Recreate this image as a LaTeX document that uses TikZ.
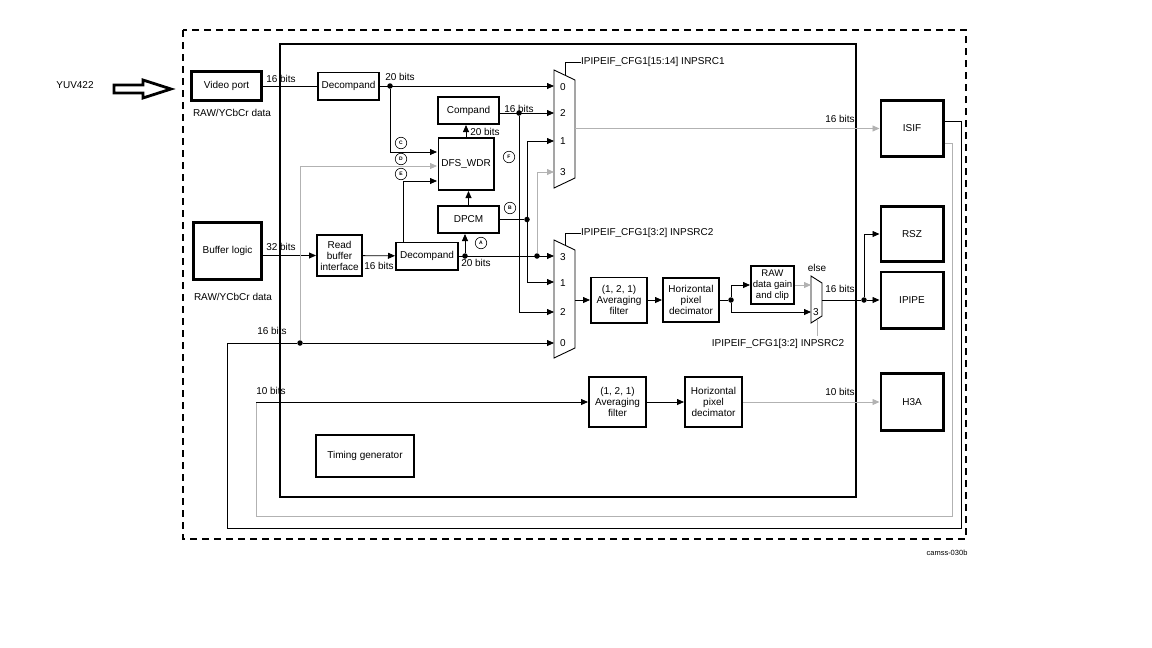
\documentclass[tikz,border=0pt]{standalone}
\usepackage{fontspec}
\setmainfont{Liberation Sans}
\usetikzlibrary{arrows.meta}

\tikzset{
    bigbox/.style={draw, line width=2.8pt, align=center, inner sep=1pt},
    blk/.style={draw, line width=1.7pt, align=center, inner sep=0.5pt},
    lbl/.style={inner sep=0pt},
    sig/.style={line width=0.8pt, -{Triangle[length=7pt,width=6pt]}},
    wire/.style={line width=0.8pt},
    gsig/.style={sig, draw=gray!60},
    gwire/.style={wire, draw=gray!60},
    dot/.style={circle, fill, inner sep=0pt, minimum size=5.5pt},
    tag/.style={circle, draw, line width=0.6pt, inner sep=0pt, minimum size=11.5pt,
        font=\fontsize{5}{5}\selectfont\bfseries},
    mux/.style={line width=0.9pt},
}

\begin{document}
\begin{tikzpicture}[x=1pt, y=-1pt, font=\fontsize{10}{11}\selectfont]
            \useasboundingbox (0,0) rectangle (1152,648);

            % Frames
            \draw[line width=1.8pt, dash pattern=on 7pt off 5pt] (183,30) rectangle (966,539);
            \draw[line width=2.8pt] (280,44) rectangle (856,497);

            % Input arrow
            \node[lbl] (yuv) at (75,85) {YUV422};
            \draw[line width=2.8pt, line join=miter]
                (114,85) -- (143,85) -- (143,80) -- (171,89) --
                (143,98) -- (143,93) -- (114,93) -- cycle;

            % Sources
            \node[bigbox, minimum width=70.2, minimum height=29.2] (vport) at (226.5,86) {Video port};
            \node[lbl] (vraw) at (232,113) {RAW/YCbCr data};
            \node[bigbox, minimum width=68.2, minimum height=57.2] (buf) at (227.5,251) {Buffer logic};
            \node[lbl] (braw) at (233,297) {RAW/YCbCr data};

            % Upper chain
            \node[blk, minimum width=61.3, minimum height=27.3] (dec1) at (348.5,86) {Decompand};
            \node[blk, minimum width=61.3, minimum height=27.3] (comp) at (468.5,110.5) {Compand};
            \node[blk, minimum width=55.3, minimum height=52.3] (dfs) at (466,164) {DFS\_WDR};
            \node[blk, minimum width=61.3, minimum height=27.3] (dpcm) at (468.5,219.5) {DPCM};

            % Buffer chain
            \node[blk, minimum width=45.3, minimum height=41.3] (rbi) at (339.5,255.5) {Read\\buffer\\interface};
            \node[blk, minimum width=62.3, minimum height=27.3] (dec2) at (427,256) {Decompand};

            % Filters
            \node[blk, minimum width=56.3, minimum height=45.3] (avg1) at (619,300) {(1, 2, 1)\\Averaging\\filter};
            \node[blk, minimum width=56.3, minimum height=44.3] (hpd1) at (691,300) {Horizontal\\pixel\\decimator};
            \node[blk, minimum width=43.3, minimum height=38.3, font=\fontsize{9.6}{10.8}\selectfont] (raw) at (772.5,285) {RAW\\data gain\\and clip};
            \node[blk, minimum width=57.3, minimum height=50.3] (avg2) at (617.5,402) {(1, 2, 1)\\Averaging\\filter};
            \node[blk, minimum width=57.3, minimum height=50.3] (hpd2) at (713.5,402) {Horizontal\\pixel\\decimator};
            \node[blk, minimum width=98.3, minimum height=42.3] (tgen) at (365,456) {Timing generator};

            % Sinks
            \node[bigbox, minimum width=62.2, minimum height=56.2] (isif) at (912,128.5) {ISIF};
            \node[bigbox, minimum width=62.2, minimum height=55.2] (rsz) at (912,234) {RSZ};
            \node[bigbox, minimum width=62.2, minimum height=56.2] (ipipe) at (912,300) {IPIPE};
            \node[bigbox, minimum width=62.2, minimum height=57.2] (h3a) at (912,402) {H3A};

            % Mux 1
            \draw[mux] (554,70) -- (575,80) -- (575,178) -- (554,188) -- cycle;
            \coordinate (m1i0) at (554,86);
            \coordinate (m1i2) at (554,113);
            \coordinate (m1i1) at (554,141);
            \coordinate (m1i3) at (554,172);
            \coordinate (m1o) at (575,128.5);
            \node[lbl] (m1l0) at (563,87) {0};
            \node[lbl] (m1l2) at (563,113) {2};
            \node[lbl] (m1l1) at (563,141) {1};
            \node[lbl] (m1l3) at (563,172) {3};
            \node[lbl, anchor=west] (cfg1) at (581,62) {IPIPEIF\_CFG1[15:14] INPSRC1};
            \draw[wire] (565,75) |- (cfg1.west);

            % Mux 2
            \draw[mux] (554,240) -- (575,250) -- (575,348) -- (554,358) -- cycle;
            \coordinate (m2i3) at (554,256);
            \coordinate (m2i1) at (554,282);
            \coordinate (m2i2) at (554,312);
            \coordinate (m2i0) at (554,343);
            \coordinate (m2o) at (575,300);
            \node[lbl] (m2l3) at (563,257) {3};
            \node[lbl] (m2l1) at (563,283) {1};
            \node[lbl] (m2l2) at (563,312) {2};
            \node[lbl] (m2l0) at (563,343) {0};
            \node[lbl, anchor=west] (cfg2) at (581,233) {IPIPEIF\_CFG1[3:2] INPSRC2};
            \draw[wire] (565,245) |- (cfg2.west);

            % Mux 3
            \draw[mux] (811,276) -- (822,283) -- (822,316) -- (811,323) -- cycle;
            \coordinate (m3ie) at (811,285);
            \coordinate (m3i3) at (811,312);
            \coordinate (m3o) at (822,300);
            \node[lbl] (m3l3) at (816,312) {3};
            \node[lbl] (else) at (817,268) {else};
            \node[lbl] (cfg3) at (778,344) {IPIPEIF\_CFG1[3:2] INPSRC2};
            \draw[gwire] (817,320) -- (817,336);

            % DFS_WDR inputs
            \coordinate (dfsc) at (437,152);
            \coordinate (dfsd) at (437,166);
            \coordinate (dfse) at (437,181);
            \node[tag] (tc) at (401,143) {C};
            \node[tag] (td) at (401,159) {D};
            \node[tag] (te) at (401,174) {E};
            \node[tag] (tf) at (509,157) {F};
            \node[tag] (tb) at (510,208) {B};
            \node[tag] (ta) at (481,243) {A};

            % Junctions
            \node[dot] (d1) at (390,86) {};
            \node[dot] (d2) at (300,343) {};
            \node[dot] (d3) at (527,219.5) {};
            \node[dot] (d4) at (465,256) {};
            \node[dot] (d5) at (537,256) {};
            \node[dot] (d6) at (731,300) {};
            \node[dot] (d7) at (864,300) {};
            \node[dot] (d8) at (519,113) {};

            % Video port path
            \draw[wire] (vport) -- (dec1);
            \node[lbl] at (281,79) {16 bits};
            \draw[sig] (dec1) -- (m1i0);
            \node[lbl] (b20a) at (400,77) {20 bits};
            \draw[sig] (d1) |- (dfsc);
            \draw[sig] (dfs.north) -- (dfs.north |- comp.south);
            \node[lbl] (b20b) at (485,132) {20 bits};
            \draw[sig] (comp.east |- m1i2) -- (m1i2);
            \node[lbl] (b16a) at (519,109) {16 bits};
            \draw[sig] (d8) |- (m2i2);
            \draw[sig] (dpcm.north) -- (dpcm.north |- dfs.south);
            \draw[wire] (dpcm) -- (d3);
            \draw[sig] (d3) |- (m1i1);
            \draw[sig] (d3) |- (m2i1);

            % Buffer path
            \draw[sig] (buf.east |- rbi) -- (rbi);
            \node[lbl] (b32) at (281,247) {32 bits};
            \draw[sig] (rbi) -- (dec2);
            \node[lbl] (b16b) at (379,266) {16 bits};
            \draw[sig] (dec2) -- (m2i3);
            \node[lbl] (b20c) at (476,263) {20 bits};
            \draw[sig] (d4) -- (d4 |- dpcm.south);
            \draw[gsig] (d5) |- (m1i3);
            \draw[sig] ([xshift=-24pt]dec2.north) |- (dfse);
            \draw[gsig] (d2) |- (dfsd);

            % Output paths
            \draw[gsig] (m1o) -- (isif);
            \node[lbl] (b16c) at (840,119) {16 bits};
            \draw[sig] (m2o) -- (avg1);
            \draw[sig] (avg1) -- (hpd1);
            \draw[wire] (hpd1) -- (d6);
            \draw[sig] (d6) |- (raw);
            \draw[sig] (d6) |- (m3i3);
            \draw[gsig] (raw) -- (m3ie);
            \draw[wire] (m3o) -- (d7);
            \node[lbl] (b16d) at (840,289) {16 bits};
            \draw[sig] (d7) -- (ipipe);
            \draw[sig] (d7) |- (rsz);
            \draw[sig] (avg2) -- (hpd2);
            \draw[gsig] (hpd2) -- (h3a);
            \node[lbl] (b10a) at (840,392) {10 bits};

            % Loops back from ISIF
            \draw[wire] ([yshift=7.5pt]isif.east) -| (961,528) -| (227,343) -- (d2);
            \draw[sig] (d2) -- (m2i0);
            \node[lbl] (b16e) at (272,331) {16 bits};
            \draw[gwire] ([yshift=-14.5pt]isif.east) -| (952,516) -| (256,402);
            \draw[sig] (256,402) -- (avg2);
            \node[lbl] (b10b) at (271,391) {10 bits};

            \node[lbl, font=\fontsize{7.5}{8}\selectfont] (fig) at (947,553) {camss-030b};
\end{tikzpicture}
\end{document}
